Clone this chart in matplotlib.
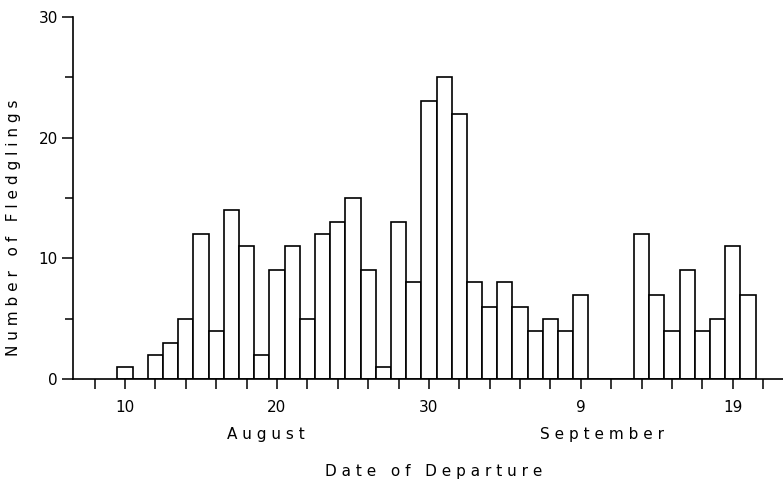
import matplotlib
matplotlib.use('Agg')
import matplotlib.pyplot as plt
import matplotlib.transforms as mtransforms

# day number counted from 1 August (Sep 9 = day 40)
days = list(range(10, 52))
fledglings = [1, 0, 2, 3, 5, 12, 4, 14, 11, 2,
              9, 11, 5, 12, 13, 15, 9, 1, 13, 8,
              23, 25, 22, 8, 6, 8, 6, 4, 5, 4,
              7, 0, 0, 0, 12, 7, 4, 9, 4, 5,
              11, 7]

tick_days = [10, 20, 30, 40, 50]
tick_names = ['10', '20', '30', '9', '19']
months = ['A u g u s t', 'S e p t e m b e r']
month_pos = [19.3, 41.4]

plt.rcParams['font.family'] = 'DejaVu Sans'

fig = plt.figure(figsize=(7.83, 4.8), dpi=100)
ax = fig.add_axes([73 / 783, 1 - 379 / 480, 710 / 783, 362 / 480])

ax.bar(days, fledglings, width=1.0, color='white', edgecolor='black', linewidth=1.2)

ax.set_xlim(6.58, 53.3)
ax.set_ylim(0, 30)

for side in ['top', 'right']:
    ax.spines[side].set_visible(False)
for side in ['left', 'bottom']:
    ax.spines[side].set_linewidth(1.2)

ax.set_xticks(tick_days)
ax.set_xticklabels(tick_names, fontsize=11)
ax.set_xticks(range(8, 53, 2), minor=True)
ax.set_yticks([0, 10, 20, 30])
ax.set_yticklabels(['0', '10', '20', '30'], fontsize=11)
ax.set_yticks([5, 15, 25], minor=True)
ax.tick_params(axis='x', which='both', direction='out', length=7, width=1.1, pad=8)
ax.tick_params(axis='y', which='major', direction='out', length=8, width=1.1, pad=3)
ax.tick_params(axis='y', which='minor', direction='out', length=6, width=1.1)

trans = mtransforms.blended_transform_factory(ax.transData, ax.transAxes)
for name, pos in zip(months, month_pos):
    ax.text(pos, -0.152, name, transform=trans, ha='center', va='center', fontsize=11)

fig.text(434 / 783, 1 - 471.5 / 480, 'D a t e   o f   D e p a r t u r e',
         ha='center', va='center', fontsize=11)
fig.text(14 / 783, 1 - 228 / 480, 'N u m b e r   o f   F l e d g l i n g s',
         ha='center', va='center', rotation=90, fontsize=11)

fig.savefig('out.png', dpi=100)
